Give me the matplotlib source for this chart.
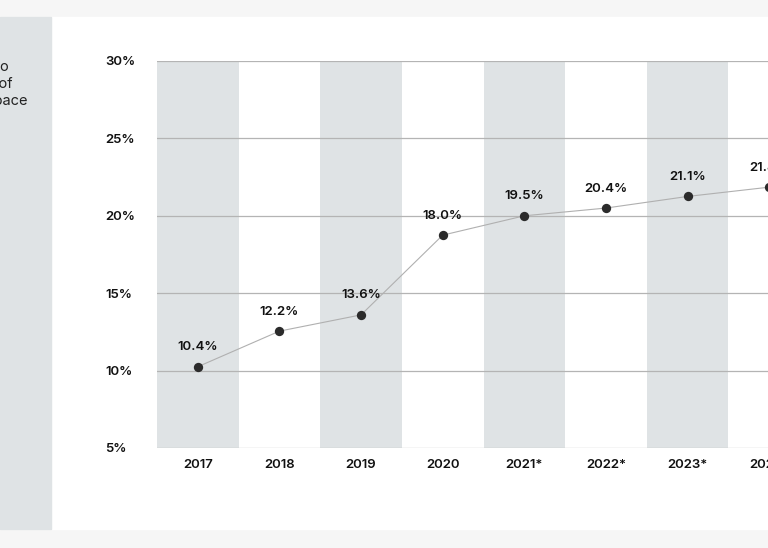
import matplotlib
matplotlib.use("Agg")
import matplotlib.pyplot as plt
from matplotlib.patches import Rectangle

# Data
years = ['2017', '2018', '2019', '2020', '2021*', '2022*', '2023*', '2024*']
point_values = [10.25, 12.55, 13.6, 18.75, 20.0, 20.5, 21.25, 21.85]
value_labels = ['10.4%', '12.2%', '13.6%', '18.0%', '19.5%', '20.4%', '21.1%', '21.8%']
y_ticks = [5, 10, 15, 20, 25, 30]
y_tick_labels = ['5%', '10%', '15%', '20%', '25%', '30%']
side_lines = ['Share of e-commerce to', 'total volume of', 'retail space']

plt.rcParams['font.family'] = ['Inter', 'DejaVu Sans']

W, H = 768, 548
fig = plt.figure(figsize=(W / 100, H / 100), dpi=100)
fig.patch.set_facecolor('#f6f6f6')

# white card and left grey panel
fig.patches.append(Rectangle((0, (H - 529) / H), 1, (529 - 17) / H,
                             transform=fig.transFigure, color='white', zorder=0))
fig.patches.append(Rectangle((0, (H - 529) / H), 51 / W, (529 - 17) / H,
                             transform=fig.transFigure, color='#dfe3e5', zorder=1))

for i, line in enumerate(side_lines):
    fig.text([8.5, 13, 28][i] / W, 1 - (67 + 17 * i) / H, line, ha='right', va='center',
             fontsize=10.5, color='#222222')

# plot area (runs off the right edge like the original)
left, right, top, bottom = 157, 810, 61, 448
ax = fig.add_axes([left / W, (H - bottom) / H, (right - left) / W, (bottom - top) / H])
ax.set_zorder(5)
ax.set_facecolor('white')

n = len(years)
x = list(range(n))
for i in x:
    if i % 2 == 0:
        ax.axvspan(i - 0.5, i + 0.5, color='#dfe3e5', lw=0, zorder=0)

for t in y_ticks:
    ax.axhline(t, color='#b4b4b4', lw=0.9, zorder=1)

ax.plot(x, point_values, color='#b0b0b0', lw=0.8, zorder=2)
ax.scatter(x, point_values, s=45, color='#2b2b2b', zorder=3, linewidths=0)

for xi, v, lab in zip(x, point_values, value_labels):
    ax.annotate(lab, (xi, v), xytext=(0, 14), textcoords='offset points',
                ha='center', va='center', fontsize=9.5, fontweight='semibold', color='#111111')

ax.set_xlim(-0.5, n - 0.5)
ax.set_ylim(5, 30)
ax.set_xticks(x)
ax.set_xticklabels(years)
ax.set_yticks(y_ticks)
ax.set_yticklabels(y_tick_labels)
ax.tick_params(length=0, labelsize=9.5, colors='#111111')
ax.tick_params(axis='x', pad=8)
for lab in ax.get_xticklabels() + ax.get_yticklabels():
    lab.set_fontweight('semibold')
for lab in ax.get_yticklabels():
    lab.set_horizontalalignment('left')
    lab.set_x(-47 / (right - left))
for s in ax.spines.values():
    s.set_visible(False)

fig.savefig('out.png', dpi=100)
